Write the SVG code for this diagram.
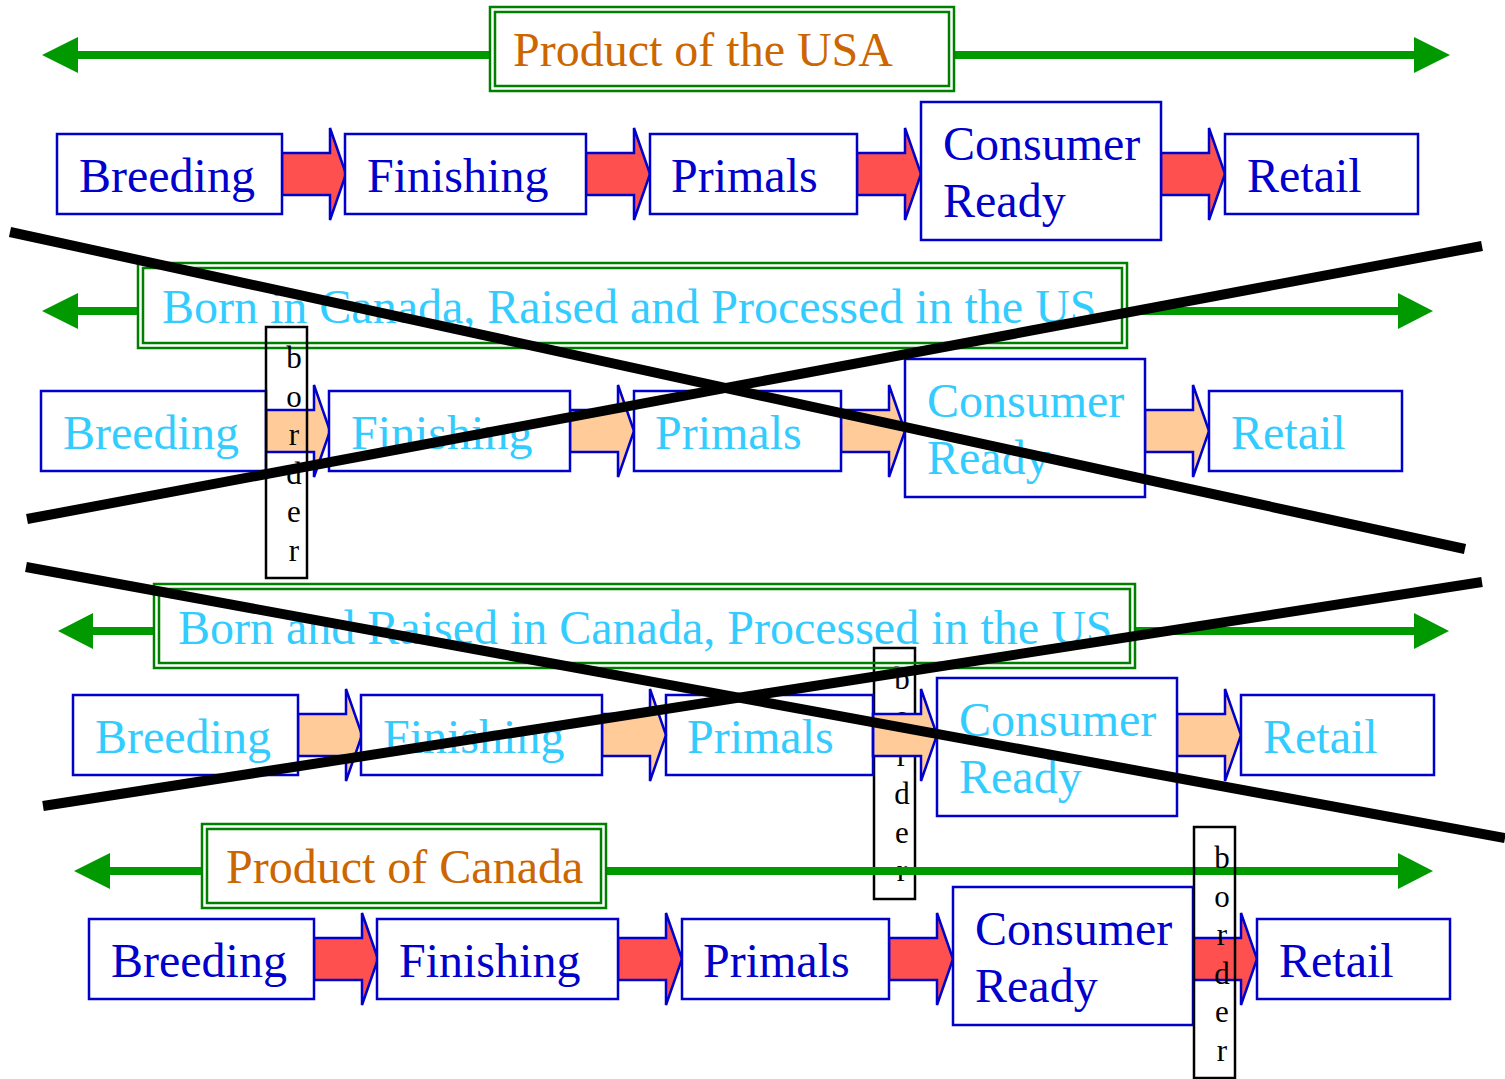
<svg xmlns="http://www.w3.org/2000/svg" xmlns:xlink="http://www.w3.org/1999/xlink" width="1505" height="1079" viewBox="0 0 1505 1079">
<style>
text{font-family:"Liberation Serif","Times New Roman",serif}
.box{fill:#fff;stroke:#0000cc;stroke-width:2.5}
.lbl{font-size:48px;fill:#0000cc}
.lbl2{font-size:48px;fill:#33ccff}
.ttl{fill:none;stroke:#008000;stroke-width:2.5}
.tin{fill:none;stroke:#008000;stroke-width:2.5}
.ttxt{font-size:48px;fill:#cc6600}
.ttxt2{font-size:48px;fill:#33ccff}
.gl{stroke:#009900;stroke-width:8;fill:none}
.gh{fill:#009900}
.red{fill:#ff5050}
.org{fill:#ffcc99}
.brd{fill:none;stroke:#000;stroke-width:2.5}
.btx{font-size:31px;fill:#000;text-anchor:middle}
.x{stroke:#000;stroke-width:10;fill:none}
</style>
<defs>
<path id="arr" d="M0,-21 H48 V-46 L64,0 L48,46 V21 H0 Z" stroke="#0000cc" stroke-width="2.5" stroke-linejoin="miter"/>
</defs>

<g id="border-row3">
<rect class="brd" x="874" y="648" width="41" height="251"/>
<text class="btx" x="902" y="689">b</text><text class="btx" x="902" y="727">o</text><text class="btx" x="902" y="766">r</text><text class="btx" x="902" y="804">d</text><text class="btx" x="902" y="843">e</text><text class="btx" x="902" y="881">r</text>
</g>

<g id="connectors">
<path class="gl" d="M76,55 H490 M954,55 H1416"/>
<polygon class="gh" points="42,55 78,37 78,73"/>
<polygon class="gh" points="1450,55 1414,37 1414,73"/>
<path class="gl" d="M76,311 H138 M1127,311 H1400"/>
<polygon class="gh" points="42,311 78,293 78,329"/>
<polygon class="gh" points="1433,311 1398,293 1398,329"/>
<path class="gl" d="M91,631 H154 M1135,631 H1416"/>
<polygon class="gh" points="58,631 93,613 93,649"/>
<polygon class="gh" points="1449,631 1414,613 1414,649"/>
<path class="gl" d="M108,871 H202 M606,871 H1400"/>
<polygon class="gh" points="74,871 110,853 110,889"/>
<polygon class="gh" points="1433,871 1398,853 1398,889"/>
<use href="#arr" class="red" x="282" y="174"/>
<use href="#arr" class="red" x="586" y="174"/>
<use href="#arr" class="red" x="857" y="174"/>
<use href="#arr" class="red" x="1161" y="174"/>
<use href="#arr" class="org" x="266" y="431"/>
<use href="#arr" class="org" x="570" y="431"/>
<use href="#arr" class="org" x="841" y="431"/>
<use href="#arr" class="org" x="1145" y="431"/>
<use href="#arr" class="org" x="298" y="735"/>
<use href="#arr" class="org" x="602" y="735"/>
<use href="#arr" class="org" x="873" y="735"/>
<use href="#arr" class="org" x="1177" y="735"/>
<use href="#arr" class="red" x="314" y="959"/>
<use href="#arr" class="red" x="618" y="959"/>
<use href="#arr" class="red" x="889" y="959"/>
<use href="#arr" class="red" x="1193" y="959"/>
</g>

<g id="title-usa">
<rect class="ttl" x="490" y="7" width="464" height="84"/>
<rect class="tin" x="495" y="12" width="454" height="74"/>
<text class="ttxt" x="513" y="66">Product of the USA</text>
</g>
<g id="title-born-canada">
<rect class="ttl" x="138" y="263" width="989" height="85"/>
<rect class="tin" x="143" y="268" width="979" height="75"/>
<text class="ttxt2" x="162" y="323">Born in Canada, Raised and Processed in the US</text>
</g>
<g id="title-born-raised-canada">
<rect class="ttl" x="154" y="584" width="981" height="84"/>
<rect class="tin" x="159" y="589" width="971" height="74"/>
<text class="ttxt2" x="178" y="644">Born and Raised in Canada, Processed in the US</text>
</g>
<g id="title-canada">
<rect class="ttl" x="202" y="824" width="404" height="84"/>
<rect class="tin" x="207" y="829" width="394" height="74"/>
<text class="ttxt" x="226" y="883">Product of Canada</text>
</g>

<g id="r1-breeding"><rect class="box" x="57" y="134" width="225" height="80"/><text class="lbl" x="79" y="192">Breeding</text></g>
<g id="r1-finishing"><rect class="box" x="345" y="134" width="241" height="80"/><text class="lbl" x="367" y="192">Finishing</text></g>
<g id="r1-primals"><rect class="box" x="650" y="134" width="207" height="80"/><text class="lbl" x="671" y="192">Primals</text></g>
<g id="r1-consumer"><rect class="box" x="921" y="102" width="240" height="138"/><text class="lbl" x="943" y="160">Consumer</text><text class="lbl" x="943" y="217">Ready</text></g>
<g id="r1-retail"><rect class="box" x="1225" y="134" width="193" height="80"/><text class="lbl" x="1247" y="192">Retail</text></g>

<g id="r2-breeding"><rect class="box" x="41" y="391" width="225" height="80"/><text class="lbl2" x="63" y="449">Breeding</text></g>
<g id="r2-finishing"><rect class="box" x="329" y="391" width="241" height="80"/><text class="lbl2" x="351" y="449">Finishing</text></g>
<g id="r2-primals"><rect class="box" x="634" y="391" width="207" height="80"/><text class="lbl2" x="655" y="449">Primals</text></g>
<g id="r2-consumer"><rect class="box" x="905" y="359" width="240" height="138"/><text class="lbl2" x="927" y="417">Consumer</text><text class="lbl2" x="927" y="474">Ready</text></g>
<g id="r2-retail"><rect class="box" x="1209" y="391" width="193" height="80"/><text class="lbl2" x="1231" y="449">Retail</text></g>
<g id="border-row2">
<rect class="brd" x="266" y="327" width="41" height="251"/>
<text class="btx" x="294" y="368">b</text><text class="btx" x="294" y="407">o</text><text class="btx" x="294" y="445">r</text><text class="btx" x="294" y="484">d</text><text class="btx" x="294" y="522">e</text><text class="btx" x="294" y="561">r</text>
</g>

<g id="r3-breeding"><rect class="box" x="73" y="695" width="225" height="80"/><text class="lbl2" x="95" y="753">Breeding</text></g>
<g id="r3-finishing"><rect class="box" x="361" y="695" width="241" height="80"/><text class="lbl2" x="383" y="753">Finishing</text></g>
<g id="r3-primals"><rect class="box" x="666" y="695" width="207" height="80" style="fill:none"/><text class="lbl2" x="687" y="753">Primals</text></g>
<g id="r3-consumer"><rect class="box" x="937" y="678" width="240" height="138"/><text class="lbl2" x="959" y="736">Consumer</text><text class="lbl2" x="959" y="793">Ready</text></g>
<g id="r3-retail"><rect class="box" x="1241" y="695" width="193" height="80"/><text class="lbl2" x="1263" y="753">Retail</text></g>

<g id="r4-breeding"><rect class="box" x="89" y="919" width="225" height="80"/><text class="lbl" x="111" y="977">Breeding</text></g>
<g id="r4-finishing"><rect class="box" x="377" y="919" width="241" height="80"/><text class="lbl" x="399" y="977">Finishing</text></g>
<g id="r4-primals"><rect class="box" x="682" y="919" width="207" height="80"/><text class="lbl" x="703" y="977">Primals</text></g>
<g id="r4-consumer"><rect class="box" x="953" y="887" width="240" height="138"/><text class="lbl" x="975" y="945">Consumer</text><text class="lbl" x="975" y="1002">Ready</text></g>
<g id="r4-retail"><rect class="box" x="1257" y="919" width="193" height="80"/><text class="lbl" x="1279" y="977">Retail</text></g>
<g id="border-row4">
<rect class="brd" x="1194" y="827" width="41" height="251"/>
<text class="btx" x="1222" y="868">b</text><text class="btx" x="1222" y="907">o</text><text class="btx" x="1222" y="945">r</text><text class="btx" x="1222" y="984">d</text><text class="btx" x="1222" y="1022">e</text><text class="btx" x="1222" y="1061">r</text>
</g>

<g id="crossouts">
<line class="x" x1="10" y1="232" x2="1465" y2="549"/>
<line class="x" x1="27" y1="519" x2="1482" y2="246"/>
<line class="x" x1="26" y1="567" x2="1505" y2="838"/>
<line class="x" x1="43" y1="806" x2="1482" y2="582"/>
</g>
</svg>
